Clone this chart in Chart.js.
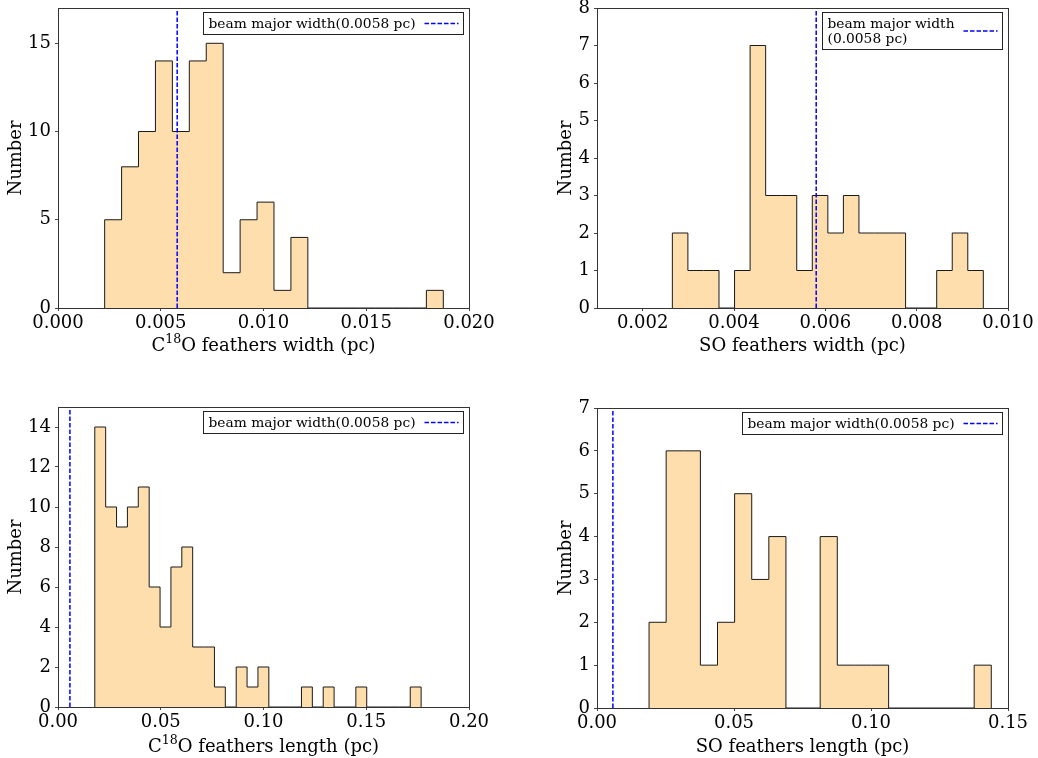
<!DOCTYPE html>
<html>
<head>
<meta charset="utf-8">
<script src="https://cdn.jsdelivr.net/npm/chart.js@4.4.1/dist/chart.umd.min.js"></script>
<style>
  html, body { margin: 0; padding: 0; background: #fff; }
  body { position: relative; width: 1038px; height: 758px; overflow: hidden; }
  canvas { position: absolute; }
</style>
</head>
<body>
<canvas id="c1" width="505" height="362" style="left:0;top:0"></canvas>
<canvas id="c2" width="488" height="362" style="left:550px;top:0"></canvas>
<canvas id="c3" width="505" height="368" style="left:0;top:390px"></canvas>
<canvas id="c4" width="488" height="368" style="left:550px;top:390px"></canvas>
<script>
// ---------- Data ----------
const beamWidth = 0.0058;

// C18O feathers width histogram (20 bins)
const widthC18ORange  = [0.00227, 0.01875];
const widthC18OCounts = [5, 8, 10, 14, 10, 14, 15, 2, 5, 6, 1, 4, 0, 0, 0, 0, 0, 0, 0, 1];
const widthC18OXTicks = [0, 0.005, 0.010, 0.015, 0.020];
const widthC18OYTicks = [0, 5, 10, 15];

// SO feathers width histogram (20 bins)
const widthSORange  = [0.00265, 0.00946];
const widthSOCounts = [2, 1, 1, 0, 1, 7, 3, 3, 1, 3, 2, 3, 2, 2, 2, 0, 0, 1, 2, 1];
const widthSOXTicks = [0.002, 0.004, 0.006, 0.008, 0.010];
const widthSOYTicks = [0, 1, 2, 3, 4, 5, 6, 7, 8];

// C18O feathers length histogram (30 bins)
const lengthC18ORange  = [0.0179, 0.1767];
const lengthC18OCounts = [14, 10, 9, 10, 11, 6, 4, 7, 8, 3, 3, 1, 0, 2, 1, 2, 0, 0, 0, 1,
                          0, 1, 0, 0, 1, 0, 0, 0, 0, 1];
const lengthC18OXTicks = [0, 0.05, 0.10, 0.15, 0.20];
const lengthC18OYTicks = [0, 2, 4, 6, 8, 10, 12, 14];

// SO feathers length histogram (20 bins)
const lengthSORange  = [0.0190, 0.1439];
const lengthSOCounts = [2, 6, 6, 1, 2, 5, 3, 4, 0, 0, 4, 1, 1, 1, 0, 0, 0, 0, 0, 1];
const lengthSOXTicks = [0, 0.05, 0.10, 0.15];
const lengthSOYTicks = [0, 1, 2, 3, 4, 5, 6, 7];

// ---------- Style ----------
const FILL = '#fddeac';
const EDGE = '#1a1a1a';
const SPINE = '#333';
const FONT = 'DejaVu Serif';

Chart.defaults.font.family = FONT;
Chart.defaults.font.size = 18;
Chart.defaults.color = '#000';

// outline of a stepfilled histogram: up at first edge, across every bin, down at last edge
function stepPoints (counts, range) {
  const [lo, hi] = range;
  const w = (hi - lo) / counts.length;
  const pts = [{ x: lo, y: 0 }];
  counts.forEach((c, i) => pts.push({ x: lo + i * w, y: c }));
  pts.push({ x: hi, y: 0 });
  return pts;
}

// box round the plot area (matplotlib spines)
const framePlugin = {
  id: 'frame',
  afterDatasetsDraw (chart) {
    const a = chart.chartArea, ctx = chart.ctx;
    ctx.save();
    ctx.strokeStyle = SPINE;
    ctx.lineWidth = 1;
    ctx.strokeRect(Math.round(a.left) + 0.5, Math.round(a.top) + 0.5,
                   Math.round(a.right - a.left), Math.round(a.bottom - a.top));
    ctx.restore();
  }
};

// x title with a real superscript (C^18 O), drawn in the space the x scale keeps
const supTitle = {
  id: 'supTitle',
  afterDraw (chart, args, opts) {
    if (!opts.parts) return;
    const ctx = chart.ctx, x = chart.scales.x;
    const y = x.bottom - opts.pad - 10.8;
    ctx.save();
    ctx.fillStyle = '#000';
    ctx.textBaseline = 'middle';
    const widths = opts.parts.map(([t, s]) => {
      ctx.font = `${18 * s}px "${FONT}"`;
      return ctx.measureText(t).width;
    });
    let cx = (x.left + x.right) / 2 - widths.reduce((a, b) => a + b, 0) / 2;
    opts.parts.forEach(([t, s, dy], i) => {
      ctx.font = `${18 * s}px "${FONT}"`;
      ctx.fillText(t, cx, y + dy);
      cx += widths[i];
    });
    ctx.restore();
  }
};

// legend drawn inside the axes, upper right, like loc='upper right'
const innerLegend = {
  id: 'innerLegend',
  afterDraw (chart) {
    const ds = chart.data.datasets.find(d => d.beam);
    if (!ds) return;
    const ctx = chart.ctx, a = chart.chartArea;
    const lines = Array.isArray(ds.label) ? ds.label : [ds.label];
    const fs = 13.8, lh = 15, padX = 5, gap = 9, sample = 34;
    ctx.save();
    ctx.font = `${fs}px "${FONT}"`;
    const tw = Math.max(...lines.map(t => ctx.measureText(t).width));
    const bw = Math.round(padX + tw + gap + sample + padX);
    const bh = Math.round(lines.length * lh + 7);
    const bx = Math.round(a.right - 6 - bw) + 0.5;
    const by = Math.round(a.top + 4) + 0.5;
    ctx.fillStyle = 'rgba(255,255,255,0.9)';
    ctx.fillRect(bx, by, bw, bh);
    ctx.strokeStyle = '#222';
    ctx.lineWidth = 1;
    ctx.strokeRect(bx, by, bw, bh);
    ctx.fillStyle = '#000';
    ctx.textBaseline = 'middle';
    lines.forEach((t, i) => ctx.fillText(t, bx + padX, by + 4 + lh * i + lh / 2));
    const ly = by + bh / 2;
    ctx.strokeStyle = 'blue';
    ctx.lineWidth = 1.5;
    ctx.setLineDash([4.5, 2]);
    ctx.beginPath();
    ctx.moveTo(bx + bw - padX - sample, ly);
    ctx.lineTo(bx + bw - padX, ly);
    ctx.stroke();
    ctx.restore();
  }
};

function makePanel (p) {
  return new Chart(document.getElementById(p.id), {
    type: 'line',
    data: {
      datasets: [
        {
          label: p.legend, beam: true, order: 0,
          data: [{ x: beamWidth, y: 0 }, { x: beamWidth, y: p.yMax }],
          borderColor: 'blue', borderWidth: 1.5, borderDash: [4.5, 2],
          pointRadius: 0, fill: false
        },
        {
          label: 'hist', order: 1,
          data: stepPoints(p.counts, p.range),
          stepped: 'before', fill: 'origin',
          backgroundColor: FILL, borderColor: EDGE, borderWidth: 1,
          pointRadius: 0
        }
      ]
    },
    options: {
      responsive: false,
      animation: false,
      events: [],
      layout: { padding: { top: p.padTop, right: p.padRight, left: 0, bottom: 0 } },
      plugins: {
        legend: { display: false }, tooltip: { enabled: false },
        supTitle: { parts: p.sup, pad: p.xTitlePad }
      },
      scales: {
        x: {
          type: 'linear', min: p.xMin, max: p.xMax,
          border: { display: false },
          grid: { drawOnChartArea: false, tickLength: 3, color: '#444' },
          ticks: { padding: 2, maxRotation: 0, autoSkip: false,
                   callback: v => Number(v).toFixed(p.digits) },
          title: { display: !p.sup, text: p.xTitle, padding: { top: 0, bottom: p.xTitlePad } },
          afterBuildTicks: s => { s.ticks = p.xTicks.map(v => ({ value: v })); },
          afterFit: s => { s.height = p.xh; s.paddingLeft = 0; s.paddingRight = 0; }
        },
        y: {
          min: 0, max: p.yMax,
          border: { display: false },
          grid: { drawOnChartArea: false, tickLength: 3, color: '#444' },
          ticks: { padding: 4, autoSkip: false },
          title: { display: true, text: 'Number', padding: { top: 6, bottom: 0 } },
          afterBuildTicks: s => { s.ticks = p.yTicks.map(v => ({ value: v })); },
          afterFit: s => { s.width = p.yw; s.paddingTop = 0; s.paddingBottom = 0; }
        }
      }
    },
    plugins: [framePlugin, innerLegend, supTitle]
  });
}

const beamLabel = 'beam major width(0.0058 pc)';

makePanel({ id: 'c1', counts: widthC18OCounts, range: widthC18ORange,
  xTicks: widthC18OXTicks, yTicks: widthC18OYTicks, xMin: 0, xMax: 0.020, yMax: 17, digits: 3,
  sup: [['C', 1, 0], ['18', 0.7, -6], ['O feathers width (pc)', 1, 0]], legend: beamLabel,
  yw: 58, xh: 54, padTop: 8, padRight: 36, xTitlePad: 5 });

makePanel({ id: 'c2', counts: widthSOCounts, range: widthSORange,
  xTicks: widthSOXTicks, yTicks: widthSOYTicks, xMin: 0.001, xMax: 0.010, yMax: 8, digits: 3,
  xTitle: 'SO feathers width (pc)', legend: ['beam major width', '(0.0058 pc)'],
  yw: 47, xh: 54, padTop: 8, padRight: 30, xTitlePad: 5 });

makePanel({ id: 'c3', counts: lengthC18OCounts, range: lengthC18ORange,
  xTicks: lengthC18OXTicks, yTicks: lengthC18OYTicks, xMin: 0, xMax: 0.20, yMax: 15, digits: 2,
  sup: [['C', 1, 0], ['18', 0.7, -6], ['O feathers length (pc)', 1, 0]], legend: beamLabel,
  yw: 58, xh: 51, padTop: 17, padRight: 36, xTitlePad: 0 });

makePanel({ id: 'c4', counts: lengthSOCounts, range: lengthSORange,
  xTicks: lengthSOXTicks, yTicks: lengthSOYTicks, xMin: 0, xMax: 0.15, yMax: 7, digits: 2,
  xTitle: 'SO feathers length (pc)', legend: beamLabel,
  yw: 47, xh: 50, padTop: 18, padRight: 30, xTitlePad: 0 });
</script>
</body>
</html>
